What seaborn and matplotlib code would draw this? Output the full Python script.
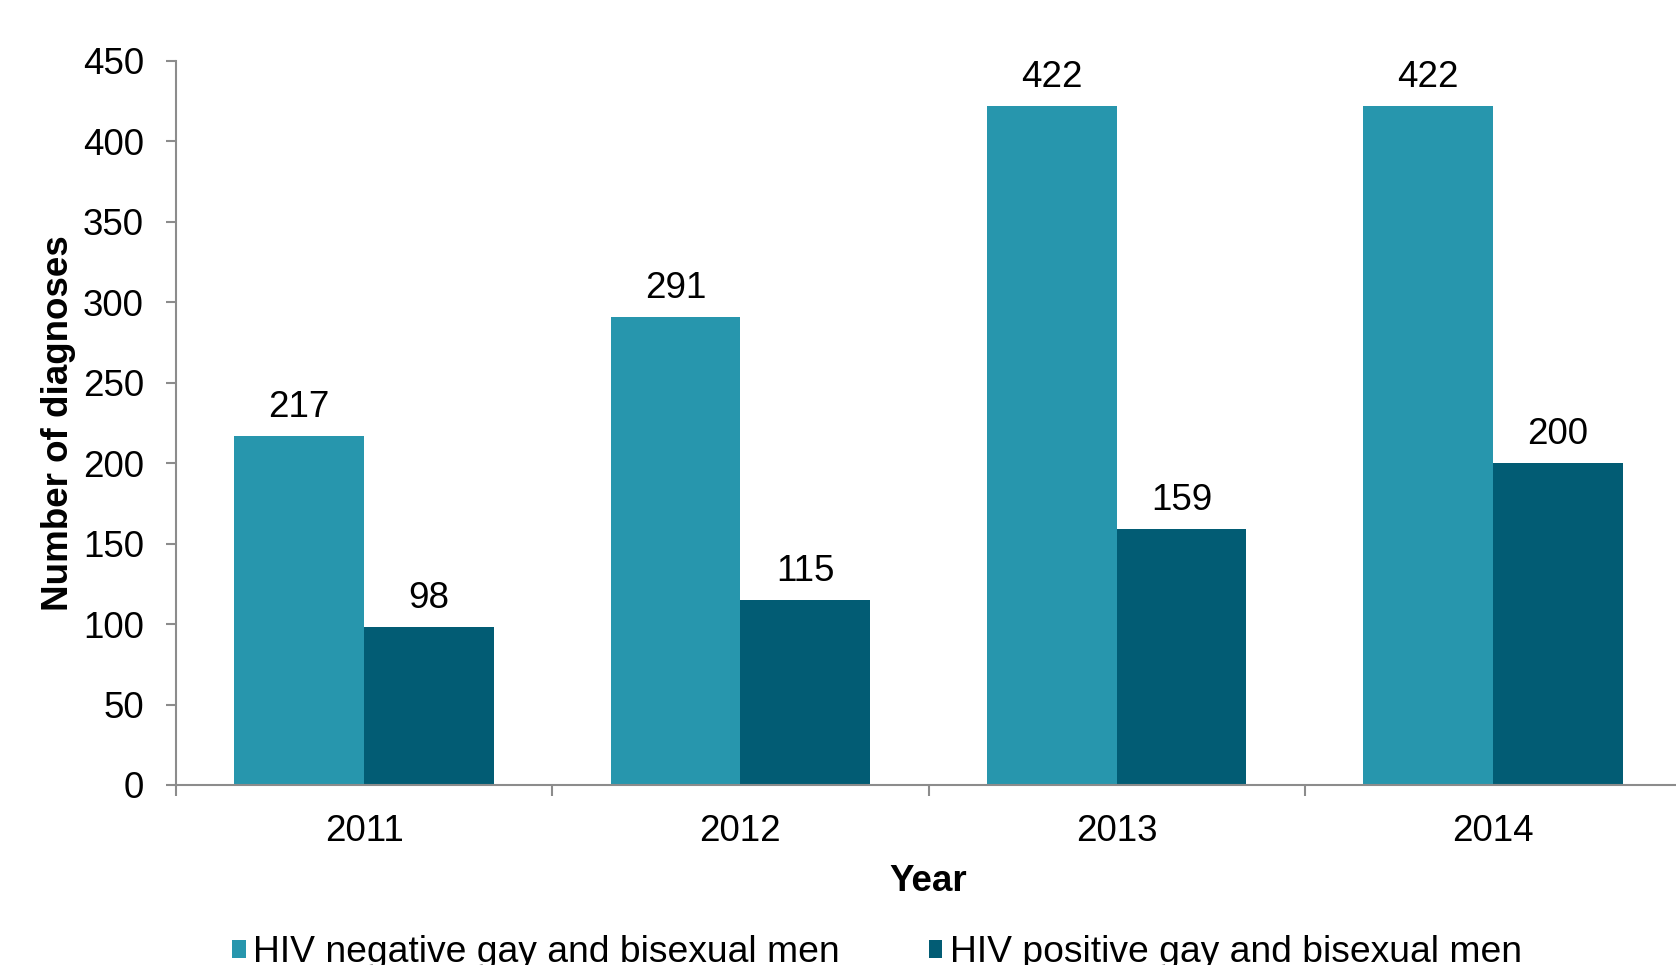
import matplotlib
matplotlib.use("Agg")
import matplotlib.pyplot as plt
from matplotlib.patches import Patch
from matplotlib.ticker import FixedLocator, MultipleLocator
import pandas as pd
import seaborn as sns

years = ["2011", "2012", "2013", "2014"]
hiv_negative = [217, 291, 422, 422]
hiv_positive = [98, 115, 159, 200]
series = ["HIV negative gay and bisexual men", "HIV positive gay and bisexual men"]
colors = ["#2796AD", "#025C74"]

df = pd.DataFrame({
    "Year": years * 2,
    "Diagnoses": hiv_negative + hiv_positive,
    "Group": [series[0]] * len(years) + [series[1]] * len(years),
})

sns.set_style("white")
plt.rcParams["font.family"] = ["Liberation Sans", "DejaVu Sans"]
plt.rcParams["text.color"] = "black"
plt.rcParams["axes.labelcolor"] = "black"
plt.rcParams["xtick.labelcolor"] = "black"
plt.rcParams["ytick.labelcolor"] = "black"
FS = 26.5
GREY = "#8c8c8c"

fig = plt.figure(figsize=(16.76, 9.65), dpi=100)
ax = fig.add_axes([176 / 1676, 180 / 965, 1505 / 1676, 724 / 965])

sns.barplot(data=df, x="Year", y="Diagnoses", hue="Group", order=years,
            hue_order=series, palette=colors, width=0.69, saturation=1,
            linewidth=0, legend=False, ax=ax)

for cont in ax.containers:
    ax.bar_label(cont, fmt="%d", padding=8, fontsize=FS, color="black")

ax.set_xlim(-0.5, len(years) - 0.5)
ax.set_ylim(0, 450)
ax.yaxis.set_major_locator(MultipleLocator(50))
ax.xaxis.set_minor_locator(FixedLocator([i - 0.5 for i in range(len(years) + 1)]))

sns.despine(ax=ax)
for side in ["left", "bottom"]:
    ax.spines[side].set_color(GREY)
    ax.spines[side].set_linewidth(1.5)

ax.tick_params(axis="y", which="major", length=7.2, width=1.5, color=GREY,
               pad=16, labelsize=FS, left=True)
ax.tick_params(axis="x", which="major", length=0, pad=21, labelsize=FS)
ax.tick_params(axis="x", which="minor", length=8, width=1.5, color=GREY,
               bottom=True)

ax.set_xlabel("Year", fontsize=FS, fontweight="bold")
ax.set_ylabel("Number of diagnoses", fontsize=FS, fontweight="bold")
ax.xaxis.set_label_coords(0.5, -0.109)
ax.yaxis.set_label_coords(-0.0664, 0.5)

handles = [Patch(facecolor=c, edgecolor="none") for c in colors]
fig.legend(handles, series, loc="center", bbox_to_anchor=(877 / 1676, 12 / 965),
           ncol=2, frameon=False, fontsize=26.8, handlelength=0.36,
           handleheight=0.36, handletextpad=0.2, columnspacing=2.4,
           borderaxespad=0, borderpad=0)

fig.savefig("out.png", dpi=100)
